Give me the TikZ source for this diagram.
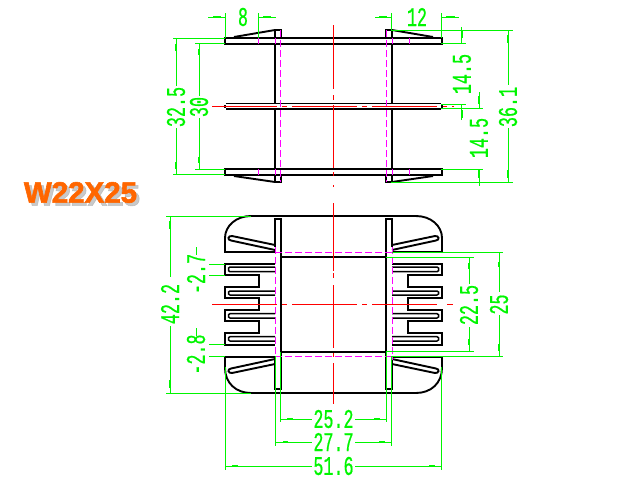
\documentclass[tikz,border=0pt]{standalone}
\usepackage{fontspec}
\usetikzlibrary{positioning}
\newfontfamily\dimfont[FakeStretch=0.62,FakeBold=0.6]{Liberation Mono}
\newfontfamily\titlefont[FakeBold=2]{Liberation Sans Bold}
\definecolor{dimgreen}{RGB}{0,245,0}
\definecolor{hidmagenta}{RGB}{255,0,255}
\definecolor{titleorange}{RGB}{255,102,0}

\begin{document}
\begin{tikzpicture}[
        x=1pt, y=-1pt,
        part/.style={draw=black, line width=1.9pt, line join=miter},
        hidden/.style={draw=hidmagenta, line width=1pt, dash pattern=on 7pt off 3pt},
        hidshort/.style={draw=hidmagenta, line width=1pt},
        axis/.style={draw=red, line width=1pt},
        dimline/.style={draw=dimgreen, line width=1pt},
        dimtick/.style={draw=dimgreen, line width=2pt},
        dimlabel/.style={inner sep=0pt, text=dimgreen, font=\dimfont\fontsize{27}{27}\selectfont}
    ]
    \useasboundingbox (0,0) rectangle (640,480);

    % title
    \node[inner sep=0pt, text=black!30, font=\titlefont\fontsize{29.5}{29.5}\selectfont, opacity=0.7] (titleshadow) at (83.5,195.5) {W22X25};
    \node[inner sep=0pt, text=titleorange, font=\titlefont\fontsize{29.5}{29.5}\selectfont] (title) at (80.5,192.5) {W22X25};

    % flanges of the upper view
    \draw[part] (225,38) rectangle (442,44);
    \draw[part] (225,169) rectangle (442,175);
    \draw[part] (226,103.5) -- (441,103.5) (226,109) -- (441,109);
    \draw[part] (225,105) -- (225,107.5) (442,105) -- (442,107.5);

    % bobbin outline of the lower view
    \draw[part] (251,216) -- (416,216);
    \draw[part] (251,393) -- (416,393);
    \draw[part] (281,257) -- (386,257) (281,352) -- (386,352);

    % left half, then the same again mirrored
    \foreach \flipx/\shiftx in {1/0,-1/667} {
        \begin{scope}[xshift=\shiftx, xscale=\flipx]
            % upper view
            \draw[part] (275,44) -- (275,103.5) (275,109) -- (275,169);
            \draw[part] (275,38) -- (275,30) -- (281,30) -- (281,38);
            \draw[part] (275,175) -- (275,182) -- (281,182) -- (281,175);
            \draw[part] (234,37) -- (275,30);
            \draw[part] (234,176) -- (275,182);
            \foreach \ya/\yb in {38/44,169/175} {
                \draw[hidshort] (258,\ya) -- (258,\yb);
                \draw[hidshort] (275,\ya) -- (275,\yb);
            }
            \draw[hidden] (280.5,30) -- (280.5,182);
            % lower view
            \draw[part] (275,247) -- (275,219) -- (281,219) -- (281,389) -- (275,389) -- (275,358);
            \draw[part] (251,216) .. controls (236,216) and (225,226) .. (225,238) -- (225,252) -- (275,252);
            \draw[part] (251,393) .. controls (236,393) and (225,383) .. (225,368) -- (225,357) -- (275,357);
            \draw[part] (275,245) -- (232,236) .. controls (228,235.5) and (227,240) .. (231,240.5) -- (275,250);
            \draw[part] (275,364) -- (232,373) .. controls (228,373.5) and (227,369) .. (231,368.5) -- (275,359);
            \draw[part] (275,264) -- (225,264) -- (225,275) -- (259,275) -- (259,286.7) -- (225,286.7) -- (225,297.7)
                -- (259,297.7) -- (259,310) -- (225,310) -- (225,320.7) -- (259,320.7) -- (259,332.7) -- (225,332.7)
                -- (225,345) -- (275,345);
            \foreach \ya/\yb in {267/271.7,291/295,313.7/318,336.7/341} {
                \draw[part, line width=1.5pt] (275,\ya) -- (230,\ya) -- (228.5,\ya+1) -- (228.5,\yb-1) -- (230,\yb) -- (275,\yb);
            }
            \draw[hidden] (275,247) -- (275,360);
        \end{scope}
    }
    \draw[hidden] (275,252) -- (392,252);
    \draw[hidden] (275,356.5) -- (392,356.5);

    % centre lines
    \foreach \ya/\yb in {25/89,95/100,105/168,172/176,185/187,203/271,273/278,285/348,353/357,363/404} {
        \draw[axis] (333,\ya) -- (333,\yb);
    }
    \foreach \xa/\xb in {212/277,282/287,292/357,362/367,372/437,443/447,452/454} {
        \draw[axis] (\xa,106) -- (\xb,106);
    }
    \foreach \xa/\xb in {212/277,282/287,292/357,362/367,372/437,447/453} {
        \draw[axis] (\xa,304.5) -- (\xb,304.5);
    }

    % extension lines
    \draw[dimline] (225,13) -- (225,38) (258,13) -- (258,38);
    \draw[dimline] (391,13) -- (391,30) (441,13) -- (441,38);
    \draw[dimline] (173,38) -- (225,38) (173,174) -- (225,174);
    \draw[dimline] (195,43.5) -- (225,43.5) (195,169) -- (225,169);
    \draw[dimline] (391,30) -- (513,30) (391,182) -- (513,182);
    \draw[dimline] (441,43) -- (466,43) (441,104) -- (466,104);
    \draw[dimline] (441,108) -- (483,108) (441,169) -- (483,169);
    \draw[dimline] (166,216) -- (251,216) (166,393) -- (251,393);
    \foreach \yy in {264,275,344.5,356.5} {
        \draw[dimline] (209,\yy) -- (225,\yy);
    }
    \draw[dimline] (386,257) -- (474,257) (386,351.5) -- (474,351.5);
    \draw[dimline] (392,252) -- (503,252) (392,356.5) -- (503,356.5);
    \draw[dimline] (225.5,367) -- (225.5,470) (441.5,367) -- (441.5,470);
    \draw[dimline] (275,356) -- (275,446) (391.5,356) -- (391.5,446);
    \draw[dimline] (280.5,352) -- (280.5,422) (386,352) -- (386,422);

    % dimension lines
    \draw[dimline] (208,17) -- (225,17) (258,17) -- (276,17);
    \draw[dimline] (375,17) -- (391,17) (441,17) -- (459,17);
    \draw[dimline] (176,38) -- (176,86) (176,128) -- (176,174);
    \draw[dimline] (199,44) -- (199,96) (199,118) -- (199,169);
    \draw[dimline] (461.5,27) -- (461.5,43) (461.5,104) -- (461.5,120);
    \draw[dimline] (479,92) -- (479,108) (479,169) -- (479,186);
    \draw[dimline] (508,30) -- (508,85) (508,128) -- (508,182);
    \draw[dimline] (170,216) -- (170,277) (170,326) -- (170,393);
    \draw[dimline] (196,247) -- (196,255) (196,328) -- (196,336);
    \draw[dimline] (469,257) -- (469,284) (469,327) -- (469,351.5);
    \draw[dimline] (499,252) -- (499,292) (499,315) -- (499,356.5);
    \draw[dimline] (280.5,419) -- (312,419) (355,419) -- (386,419);
    \draw[dimline] (275,442) -- (312,442) (355,442) -- (391.5,442);
    \draw[dimline] (225.5,466) -- (312,466) (355,466) -- (441.5,466);

    % little arrow marks on the dimension lines
    \foreach \xa/\xb/\yy in {213/221/17,263/271/17,379/387/17,446/455/17,287/293/419,374/380/419,283/288/442,379/385/442,232/238/466,429/435/466} {
        \draw[dimtick] (\xa,\yy) -- (\xb,\yy);
    }
    \foreach \xx/\ya/\yb in {176/44/51,176/162/169,199/49/55,199/157/163,461.5/31/38,461.5/110/118,479/96/104,479/170/178,508/35/43,508/170/178,170/221/229,170/380/388,469/263/269,469/339/345,499/262/267,499/344/351} {
        \draw[dimtick] (\xx,\ya) -- (\xx,\yb);
    }

    % dimension texts
    \node[dimlabel] (dimeight) at (243,17) {8};
    \node[dimlabel] (dimtwelve) at (417,17) {12};
    \node[dimlabel, rotate=90] (dimouter) at (176,107) {32.5};
    \node[dimlabel, rotate=90] (diminner) at (199,107) {30};
    \node[dimlabel, rotate=90] (dimpitchup) at (462,74) {14.5};
    \node[dimlabel, rotate=90] (dimpitchlow) at (479,138) {14.5};
    \node[dimlabel, rotate=90] (dimtotal) at (508,107) {36.1};
    \node[dimlabel, rotate=90] (dimheight) at (170,304) {42.2};
    \node[dimlabel, rotate=90] (dimtopfin) at (196,274) {-2.7};
    \node[dimlabel, rotate=90] (dimlowfin) at (196,354.5) {-2.8};
    \node[dimlabel, rotate=90] (dimwindow) at (469,305) {22.5};
    \node[dimlabel, rotate=90] (dimwindowout) at (499,304.5) {25};
    \node[dimlabel] (dimcore) at (333.5,419) {25.2};
    \node[dimlabel] (dimcoreout) at (333.5,442) {27.7};
    \node[dimlabel] (dimwidth) at (333.5,466) {51.6};
\end{tikzpicture}
\end{document}
